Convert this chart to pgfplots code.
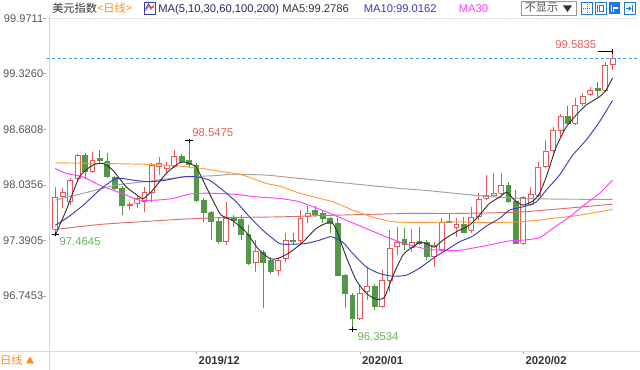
\documentclass[border=0pt]{standalone}
\usepackage{fontspec}
\setmainfont{Liberation Sans}
\newfontfamily\cjk{Noto Sans CJK SC}
\usepackage{pgfplots}
\pgfplotsset{compat=1.18}

\definecolor{cred}{HTML}{E85858}
\definecolor{cgreen}{HTML}{529846}
\definecolor{maA}{HTML}{333333}
\definecolor{maB}{HTML}{3C3CB4}
\definecolor{maC}{HTML}{FF3CFF}
\definecolor{maD}{HTML}{FF9A3C}
\definecolor{maE}{HTML}{A0A0A0}
\definecolor{maF}{HTML}{DD6B6B}
\definecolor{annred}{HTML}{E65C5C}
\definecolor{anngreen}{HTML}{6DB05E}
\definecolor{curblue}{HTML}{3D9BE9}
\definecolor{labgray}{HTML}{555555}
\definecolor{darklab}{HTML}{333333}
\definecolor{orangeT}{HTML}{FF8A1A}
\definecolor{axisline}{HTML}{C9D6E3}
\definecolor{iconblue}{HTML}{1E78D7}

% candle: index, open, high, low, close
\newcommand{\candle}[7]{% #6 draw colour, #7 fill colour
 \pgfmathsetmacro\xl{#1-0.33}\pgfmathsetmacro\xr{#1+0.33}%
 \edef\tmpw{\noexpand\addplot[draw=#6, line width=0.7pt] coordinates {(#1,#4) (#1,#3)};}\tmpw
 \edef\tmpb{\noexpand\addplot[draw=#6, fill=#7, line width=0.7pt] coordinates {(\xl,#2) (\xr,#2) (\xr,#5) (\xl,#5) (\xl,#2)};}\tmpb
}
\newcommand{\up}[5]{\candle{#1}{#2}{#3}{#4}{#5}{cred}{white}}
\newcommand{\dn}[5]{\candle{#1}{#2}{#3}{#4}{#5}{cgreen}{cgreen}}

\begin{document}
\begin{tikzpicture}[x=0.75pt,y=0.75pt]
\path[use as bounding box] (0,0) rectangle (640,370);
\begin{axis}[
 at={(62.5,21.5)}, anchor=south west, scale only axis,
 width=442.9pt, height=249.9pt,
 xmin=-1.19, xmax=78.29, ymin=96.1002, ymax=99.9711,
 axis line style={draw=none},
 tick pos=left, tick align=outside,
 xtick={19,41,63}, xticklabels={2019/12,2020/01,2020/02},
 ytick={96.7453,97.3905,98.0356,98.6808,99.3260,99.9711},
 yticklabels={96.7453,97.3905,98.0356,98.6808,99.3260,99.9711},
 minor y tick num=4,
 major tick length=2.25pt, minor tick length=1.5pt,
 major tick style={draw=gray!70, line width=0.5pt},
 minor tick style={draw=gray!30, line width=0.4pt},
 yticklabel style={font=\fontsize{8.3}{10}\selectfont, text=labgray, inner sep=0pt},
 xticklabel style={font=\bfseries\fontsize{8.5}{10}\selectfont, text=darklab, anchor=north west, inner sep=0pt, xshift=1.5pt, yshift=-1.5pt},
 clip=true,
]
\draw[gray!35, densely dotted] (rel axis cs:0,1) -- (rel axis cs:1,1);
\up{0}{97.5176}{98.0130}{97.4645}{97.8897}
\up{1}{97.8967}{97.9944}{97.7618}{97.9479}
\up{2}{97.8386}{98.1106}{97.8002}{98.0909}
\up{3}{98.1106}{98.3932}{98.0711}{98.3816}
\dn{4}{98.3816}{98.4013}{98.0990}{98.1874}
\up{5}{98.1874}{98.4199}{98.1688}{98.3234}
\dn{6}{98.3467}{98.4397}{98.2886}{98.3234}
\dn{7}{98.3037}{98.4013}{98.1106}{98.1292}
\dn{8}{98.1223}{98.1374}{97.9746}{97.9944}
\dn{9}{97.9944}{98.0211}{97.6839}{97.8002}
\up{10}{97.7920}{97.8386}{97.7420}{97.8083}
\up{11}{97.8199}{97.9165}{97.7653}{97.8781}
\up{12}{97.8467}{98.0095}{97.7188}{97.9513}
\up{13}{97.9513}{98.2886}{97.8386}{98.2653}
\up{14}{98.2455}{98.3618}{98.1490}{98.2886}
\up{15}{98.2269}{98.3037}{98.1688}{98.2653}
\up{16}{98.2537}{98.4397}{98.2304}{98.3699}
\dn{17}{98.3699}{98.3932}{98.3002}{98.3037}
\dn{18}{98.3234}{98.5475}{98.2269}{98.2769}
\dn{19}{98.2653}{98.2886}{97.8351}{97.8583}
\dn{20}{97.8502}{97.8816}{97.6060}{97.7106}
\dn{21}{97.7106}{97.7304}{97.3932}{97.6060}
\dn{22}{97.6060}{97.6490}{97.3467}{97.3734}
\up{23}{97.3734}{97.8386}{97.3351}{97.6455}
\dn{24}{97.6572}{97.6839}{97.5479}{97.6258}
\dn{25}{97.6339}{97.6839}{97.3932}{97.4630}
\dn{26}{97.4630}{97.5676}{97.1025}{97.1223}
\up{27}{97.1292}{97.3932}{97.0246}{97.2572}
\dn{28}{97.2537}{97.2769}{96.6025}{97.1374}
\dn{29}{97.1606}{97.1955}{96.9979}{97.0246}
\up{30}{97.0444}{97.1839}{96.9746}{97.1606}
\up{31}{97.1804}{97.4746}{97.1374}{97.3932}
\dn{32}{97.3932}{97.4746}{97.3351}{97.3734}
\up{33}{97.3932}{97.7420}{97.3583}{97.6455}
\up{34}{97.6641}{97.7886}{97.5909}{97.7072}
\dn{35}{97.7420}{97.7886}{97.6641}{97.6955}
\dn{36}{97.7072}{97.7420}{97.5909}{97.6490}
\dn{37}{97.6490}{97.6641}{97.4746}{97.5909}
\dn{38}{97.5874}{97.6490}{96.9746}{96.9862}
\dn{39}{96.9862}{96.9979}{96.6025}{96.7734}
\dn{40}{96.7537}{96.7769}{96.3534}{96.4827}
\up{41}{96.4827}{96.8699}{96.4630}{96.7734}
\up{42}{96.7920}{97.0827}{96.6955}{96.8583}
\dn{43}{96.8583}{96.8816}{96.5792}{96.6176}
\up{44}{96.6176}{97.0444}{96.6025}{96.9281}
\up{45}{96.9281}{97.5095}{96.7920}{97.2967}
\up{46}{97.3153}{97.5479}{97.2188}{97.3699}
\dn{47}{97.4048}{97.5327}{97.2769}{97.3432}
\up{48}{97.3083}{97.5176}{97.2537}{97.3618}
\dn{49}{97.3734}{97.5479}{97.3351}{97.3548}
\dn{50}{97.3618}{97.3932}{97.1606}{97.1990}
\up{51}{97.1990}{97.3699}{97.0827}{97.3351}
\up{52}{97.2886}{97.6455}{97.2537}{97.5944}
\dn{53}{97.6141}{97.7072}{97.5874}{97.5967}
\up{54}{97.5444}{97.6490}{97.4281}{97.5792}
\dn{55}{97.5792}{97.6606}{97.4746}{97.4862}
\up{56}{97.5095}{97.7804}{97.4746}{97.6548}
\up{57}{97.6641}{97.9362}{97.6258}{97.8699}
\up{58}{97.8781}{98.1490}{97.8583}{97.9165}
\up{59}{97.9165}{98.1688}{97.8932}{97.9397}
\up{60}{97.9362}{98.1688}{97.9165}{98.0327}
\dn{61}{98.0327}{98.0711}{97.8234}{97.8467}
\dn{62}{97.8467}{97.9746}{97.3467}{97.3583}
\up{63}{97.3583}{97.9048}{97.3351}{97.8932}
\up{64}{97.8118}{98.0095}{97.7886}{97.9281}
\up{65}{97.9165}{98.3002}{97.8932}{98.2420}
\up{66}{98.2455}{98.5560}{98.2304}{98.4199}
\up{67}{98.4316}{98.7106}{98.4013}{98.6641}
\up{68}{98.6723}{98.8583}{98.5944}{98.8351}
\dn{69}{98.8351}{98.9513}{98.7420}{98.7502}
\up{70}{98.7502}{99.0444}{98.7304}{98.9630}
\up{71}{98.9827}{99.1025}{98.9513}{99.0676}
\up{72}{99.0909}{99.1723}{99.0676}{99.1374}
\dn{73}{99.1606}{99.2339}{99.0595}{99.1374}
\up{74}{99.1374}{99.4665}{99.1141}{99.4281}
\up{75}{99.4362}{99.5835}{99.3699}{99.5050}
% MA200
\addplot[maF, line width=0.7pt, smooth, tension=0.35] coordinates {(0,97.5176) (5.95,97.5758) (12.68,97.6141) (17.16,97.6374) (22.1,97.6548) (30.18,97.6641) (37.81,97.6839) (47.67,97.7037) (53.96,97.7037) (62.92,97.7223) (75,97.8118)};
% MA100
\addplot[maE, line width=0.7pt, smooth, tension=0.35] coordinates {(0,97.8583) (3.7,97.9362) (8.2,98.0327) (12.68,98.0792) (17.16,98.1258) (21.66,98.1432) (23.89,98.1606) (28.38,98.1490) (32.87,98.1106) (37.35,98.0711) (41.84,98.0327) (46.34,97.9944) (49.46,97.9746) (53.96,97.9362) (58.44,97.8990) (62.92,97.8781) (67.86,97.8699) (75,97.8665)};
% MA60
\addplot[maD, line width=0.7pt, smooth, tension=0.35] coordinates {(0,98.2920) (5.95,98.2851) (12.68,98.2734) (16.72,98.2537) (19.41,98.2304) (21.66,98.2013) (25.24,98.1490) (28.38,98.0525) (30.18,98.0211) (32.87,97.9397) (37.35,97.8386) (40.04,97.7420) (42.73,97.6606) (45.42,97.6083) (49.02,97.5967) (53.96,97.6060) (58.44,97.5967) (62.92,97.6083) (66.96,97.6455) (70.54,97.6839) (75,97.7502)};
% MA30
\addplot[maC, line width=0.7pt, smooth, tension=0.35] coordinates {(0,98.2269) (1.47,98.1688) (3.7,98.1292) (5.95,98.0327) (7.74,97.9746) (9.54,97.9165) (11.33,97.8583) (13.58,97.8583) (15.81,97.8781) (18.06,97.9281) (20.31,97.9397) (23.89,97.9281) (27.04,97.8967) (30.18,97.8781) (32.87,97.8386) (36.46,97.7223) (39.15,97.6258) (41.84,97.5292) (44.54,97.4316) (47.23,97.3467) (50.36,97.2851) (53.96,97.2711) (56.65,97.3083) (59.34,97.3548) (61.13,97.3851) (62.92,97.3932) (65.17,97.4223) (66.96,97.5292) (69.2,97.6641) (71.45,97.8199) (73.24,97.9362) (75,98.0909)};
% MA10
\addplot[maB, line width=0.7pt, smooth, tension=0.35] coordinates {(0,97.5676) (1.47,97.6455) (3.7,97.7944) (5.95,97.9746) (8.2,98.1106) (10.43,98.0909) (12.68,98.0711) (14.93,98.0909) (17.16,98.1292) (18.96,98.1292) (20.75,98.0909) (22.54,97.9746) (24.35,97.8386) (26.14,97.6641) (27.93,97.5095) (30.18,97.3548) (31.97,97.3467) (33.77,97.3548) (35.56,97.3932) (37.13,97.4339) (38.69,97.3699) (40.04,97.2386) (41.84,97.0827) (43.63,97.0059) (45.42,96.9746) (47.23,96.9862) (49.02,97.0676) (50.81,97.1804) (52.61,97.2769) (54.4,97.3734) (56.19,97.4397) (57.99,97.5560) (59.78,97.6455) (61.13,97.7420) (62.92,97.7804) (64.72,97.8351) (66.07,97.9746) (67.86,98.1490) (69.65,98.3816) (71.45,98.5560) (73.24,98.7688) (75,99.0162)};
% MA5
\addplot[maA, line width=0.7pt, smooth, tension=0.35] coordinates {(0,97.4513) (1.47,97.742) (3.26,98.1292) (5.05,98.2653) (6.39,98.2851) (7.74,98.2072) (9.54,98.0130) (11.33,97.8967) (11.87,97.8758) (13.12,97.9746) (14.93,98.1688) (16.72,98.2920) (17.62,98.2967) (18.96,98.2420) (20.31,98.0130) (21.66,97.7804) (22.33,97.6839) (23.89,97.6199) (25.69,97.4862) (27.25,97.3002) (28.83,97.1804) (29.95,97.1804) (31.52,97.2479) (33.31,97.3699) (35.11,97.5292) (36.46,97.5909) (37.13,97.6060) (37.81,97.5211) (39.15,97.1990) (40.5,96.9281) (41.84,96.7769) (43.19,96.7072) (44.31,96.7304) (45.42,96.9746) (46.77,97.2188) (47.67,97.2886) (49.02,97.3641) (49.92,97.3548) (51.04,97.3118) (52.15,97.3932) (53.96,97.4897) (55.75,97.5676) (57.09,97.6839) (58.44,97.8199) (59.79,97.8932) (60.77,97.9513) (61.8,97.8583) (62.92,97.8002) (64.27,97.8467) (65.17,97.9362) (66.07,98.1258) (67.42,98.4746) (68.76,98.7072) (70.11,98.8467) (71.45,98.9630) (73.24,99.0595) (74.14,99.1374) (75,99.2786)};
% current price line
\addplot[curblue, line width=0.7pt, dash pattern=on 2.2pt off 2pt] coordinates {(-1.19,99.505) (78.29,99.505)};
% annotations
\draw[black, line width=0.6pt] (axis cs:17.45,98.5475) -- (axis cs:18.55,98.5475) (axis cs:18,98.522) -- (axis cs:18,98.573);
\node[anchor=west, inner sep=0pt, text=annred, font=\fontsize{8.5}{10}\selectfont] at (axis cs:18.4,98.6374) {98.5475};
\draw[black, line width=0.6pt] (axis cs:-0.45,97.4645) -- (axis cs:0.5,97.4645) (axis cs:0,97.44) -- (axis cs:0,97.49);
\node[anchor=west, inner sep=0pt, text=anngreen, font=\fontsize{8.5}{10}\selectfont] at (axis cs:0.55,97.3825) {97.4645};
\draw[black, line width=0.6pt] (axis cs:39.55,96.3534) -- (axis cs:40.6,96.3534) (axis cs:40,96.328) -- (axis cs:40,96.379);
\node[anchor=west, inner sep=0pt, text=anngreen, font=\fontsize{8.5}{10}\selectfont] at (axis cs:40.65,96.277) {96.3534};
\draw[black, line width=0.6pt] (axis cs:73.0,99.5835) -- (axis cs:75.05,99.5835) (axis cs:75,99.558) -- (axis cs:75,99.609);
\node[anchor=east, inner sep=0pt, text=annred, font=\fontsize{8.5}{10}\selectfont] at (axis cs:72.85,99.6607) {99.5835};
\end{axis}
% frame lines
\draw[gray!30, line width=0.6pt] (0,18.5) -- (640,18.5);
\draw[axisline, line width=0.6pt] (49.5,0) -- (49.5,355);
% top right box (before its text)
\draw[gray!80, line width=0.6pt, fill=white] (521.7,355) rectangle (576.7,368.3);
\fill[darklab] (563,364.5) -- (572,364.5) -- (567.5,358) -- cycle;
% top legend
\begin{scope}[every node/.style={anchor=base west, inner sep=0pt, font=\fontsize{8.4}{10}\selectfont}]
\node[text=darklab] at (52,357) {\cjk 美元指数};
\node[text=orangeT] at (97,357) {\cjk <日线>};
\node[text=darklab!80!blue] at (158,357) {MA(5,10,30,60,100,200)};
\node[text=maA] at (282,357) {MA5:99.2786};
\node[text=maB] at (363.5,357) {MA10:99.0162};
\node[text=maC] at (458.5,357) {MA30};
\node[text=labgray] at (524.5,358) {\cjk 不显示};
\node[text=orangeT] at (0,5.5) {\cjk 日线};
\end{scope}
% legend icon
\draw[maB, line width=0.6pt, fill=white] (144,356) rectangle (155.5,367.5);
\draw[cred, line width=0.6pt] (145.5,359) -- (148.5,364) -- (151,360.5) -- (154,365.5);
\draw[maB, line width=0.6pt] (145.5,361) -- (148.5,366) -- (151,362.5) -- (154,363);
% icons
\draw[iconblue, line width=0.6pt] (581.5,355.5) rectangle (592.5,367.5);
\draw[iconblue, line width=0.6pt, densely dotted] (587,357) -- (587,366) (583,361.5) -- (591,361.5);
\draw[iconblue, line width=0.6pt] (595,355.5) rectangle (606,367.5);
\draw[iconblue, line width=0.6pt] (597.5,358) -- (597.5,365) (599.5,358.5) rectangle (603.5,364.5);
\fill[iconblue] (609,355.5) rectangle (620,367.5);
\draw[white, line width=0.8pt] (611.5,358) -- (611.5,365) (613.5,358) -- (613.5,362) -- (617.5,362);
\draw[iconblue, line width=0.6pt] (624,355.5) rectangle (635,367.5);
\draw[iconblue, line width=0.6pt] (626,361.5) -- (631,361.5) (632.5,358) -- (632.5,365);
\fill[iconblue] (631.5,361.5) -- (628.5,364) -- (628.5,359) -- cycle;
% bottom-left triangle
\fill[orangeT] (26,6.5) -- (34,6.5) -- (30,13.5) -- cycle;
\end{tikzpicture}
\end{document}
